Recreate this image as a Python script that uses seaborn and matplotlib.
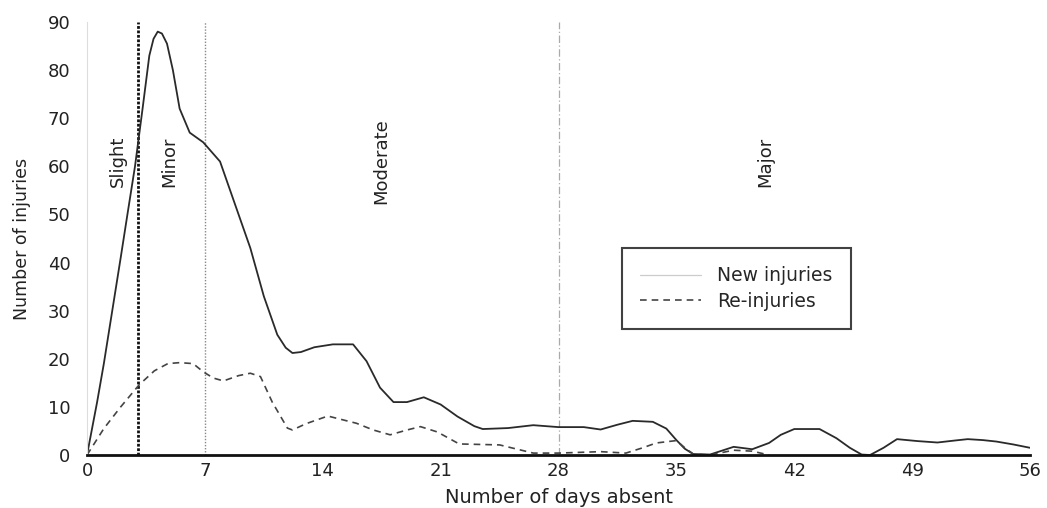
import numpy as np
import pandas as pd
import matplotlib
matplotlib.use("Agg")
import matplotlib.pyplot as plt
import seaborn as sns

# ---------------- data ----------------
days_new = [0, 0.6, 1, 1.5, 2, 2.4, 2.85, 3.3, 3.7, 3.95, 4.2, 4.45, 4.75, 5.1, 5.5, 6.1,
            6.9, 7.9, 8.8, 9.7, 10.5, 11.3, 11.8, 12.2, 12.7, 13.5, 14.6, 15.8, 16.6,
            17.4, 18.2, 19, 20, 21, 22, 23, 23.5, 25, 26.5, 28, 29.5, 30.5, 31.5, 32.4,
            33.6, 34.4, 35, 35.5, 36, 37, 38.4, 39.5, 40.5, 41.2, 42, 43.5, 44.5, 45.3,
            46, 46.5, 47.3, 48.1, 49.3, 50.5, 51.5, 52.3, 53.2, 54, 55, 56]
new_injuries = [0, 11, 19, 30, 41, 50, 60, 72, 83, 86.5, 88, 87.6, 85.5, 80, 72, 67,
                65, 61, 52, 43, 33, 25, 22.3, 21.2, 21.4, 22.4, 23, 23, 19.5,
                14, 11, 11, 12, 10.5, 8, 6, 5.4, 5.6, 6.2, 5.8, 5.8, 5.3, 6.3, 7.1,
                6.9, 5.5, 3.1, 1.3, 0.2, 0.1, 1.7, 1.2, 2.5, 4.2, 5.4, 5.4, 3.5, 1.5,
                0.1, 0, 1.5, 3.3, 2.9, 2.6, 3.0, 3.3, 3.1, 2.8, 2.2, 1.5]

days_re = [0, 1, 2, 3.1, 4, 4.8, 5.5, 6.3, 6.9, 7.5, 8.1, 9, 9.7, 10.3, 11, 11.9,
           12.2, 13, 14.3, 16, 17, 18, 19, 19.8, 20.8, 22.1, 24.5, 26.5, 28, 30.5,
           32, 33, 33.8, 35, 35.5, 36, 37, 38.4, 39.5, 40.5]
re_injuries = [0, 5.5, 10, 14.6, 17.5, 19, 19.2, 19, 17.3, 16, 15.4, 16.5, 17, 16.3, 11, 5.6,
               5.2, 6.5, 8.1, 6.6, 5.2, 4.2, 5.2, 5.9, 4.8, 2.3, 2.1, 0.4, 0.4, 0.7,
               0.4, 1.5, 2.5, 3.0, 1.5, 0.2, 0, 1.0, 0.8, 0]

severity_bounds = [3, 7, 28]
severity_labels = ["Slight", "Minor", "Moderate", "Major"]
severity_label_x = [1.85, 4.9, 17.5, 40.3]
x_ticks = [0, 7, 14, 21, 28, 35, 42, 49, 56]
y_ticks = [0, 10, 20, 30, 40, 50, 60, 70, 80, 90]

# ---------------- style ----------------
sns.set_style("white")
plt.rcParams["font.family"] = ["DejaVu Sans"]
TXT = "#222222"

fig = plt.figure(figsize=(10.47, 5.08), dpi=100)
ax = fig.add_axes([0.0831, 0.1043, 0.9007, 0.8524])

sns.lineplot(x=days_new, y=new_injuries, ax=ax, color="#2a2a2a", lw=1.3,
             label="New injuries")
sns.lineplot(x=days_re, y=re_injuries, ax=ax, color="#444444", lw=1.2,
             linestyle=(0, (4, 3)), label="Re-injuries")

# severity boundaries
bound_styles = [dict(color="#111111", lw=2.0, ls=(0, (1, 0.6))),
                dict(color="#888888", lw=1.0, ls=(0, (1, 1.2))),
                dict(color="#aaaaaa", lw=0.9, ls=(0, (6, 2, 1, 2)))]
for b, st in zip(severity_bounds, bound_styles):
    ax.axvline(b, ymin=0, ymax=1, zorder=1, **st)

for lab, lx in zip(severity_labels, severity_label_x):
    ax.text(lx, 61, lab, rotation=90, ha="center", va="center",
            fontsize=13, color=TXT)

ax.set_xlim(0, 56)
ax.set_ylim(0, 90)
ax.set_xticks(x_ticks)
ax.set_yticks(y_ticks)
ax.tick_params(axis="x", direction="in", length=9, width=1.4, color="#222222",
               labelsize=13, pad=5, labelcolor=TXT)
ax.tick_params(axis="y", direction="out", length=7, width=1.0, color="#999999",
               labelsize=13, pad=5, labelcolor=TXT)
for t, v in zip(ax.xaxis.get_major_ticks(), x_ticks):
    if v in (7, 14, 28, 49):
        t.tick1line.set_color("#bbbbbb")
        t.tick1line.set_markeredgewidth(0.8)
for t, v in zip(ax.yaxis.get_major_ticks(), y_ticks):
    if v == 80:
        t.tick1line.set_color("#111111")
        t.tick1line.set_markeredgewidth(1.6)

for s in ["top", "right"]:
    ax.spines[s].set_visible(False)
ax.spines["left"].set_color("#dddddd")
ax.spines["left"].set_linewidth(0.8)
ax.spines["bottom"].set_color("#111111")
ax.spines["bottom"].set_linewidth(2.0)

ax.set_xlabel("Number of days absent", fontsize=14, labelpad=6, color=TXT)
ax.set_ylabel("Number of injuries", fontsize=12.5, labelpad=12, color=TXT)

leg = ax.legend(loc="upper left", bbox_to_anchor=(0.567, 0.477), fontsize=13.5,
                frameon=True, fancybox=False, edgecolor="#111111",
                handlelength=3.3, handletextpad=0.85, borderpad=0.95,
                labelspacing=0.35, borderaxespad=0)
leg.get_frame().set_linewidth(1.5)
hl = leg.get_lines()
hl[0].set_color("#cccccc")
hl[0].set_linewidth(0.9)
hl[1].set_color("#444444")

fig.savefig("out.png", dpi=100)
